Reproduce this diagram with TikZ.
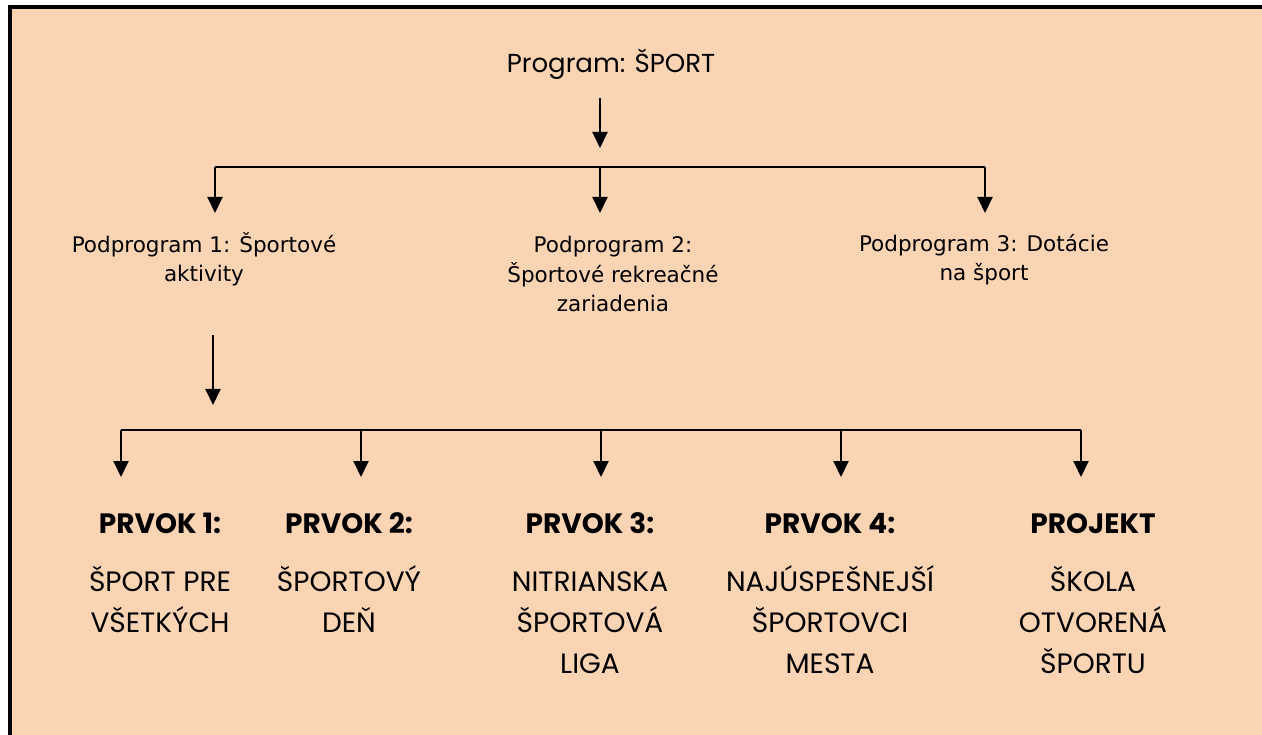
\documentclass[tikz,border=0pt]{standalone}
\usepackage{fontspec}
\setmainfont{DejaVu Sans}
\newfontfamily\gothic{Poppins}
\usetikzlibrary{arrows.meta}
\definecolor{peach}{RGB}{251,212,180}
\begin{document}
\begin{tikzpicture}[x=1pt,y=-1pt,
  ln/.style={line width=2pt},
  arr/.style={line width=2pt,-{Triangle[width=15pt,length=16pt]}},
  title/.style={inner sep=0pt,anchor=base,font=\gothic\fontsize{26}{30}\selectfont},
  sub/.style={inner sep=0pt,anchor=base,align=center,font=\fontsize{21.5}{29.5}\selectfont},
  col/.style={inner sep=0pt,anchor=base,align=center,font=\gothic\fontsize{28}{41}\selectfont}]
\useasboundingbox (0,0) rectangle (1262,735);
\fill[peach] (12,9) rectangle (1262,735);
\draw[line width=4pt] (10,735) -- (10,7) -- (1262,7);

\node[title] (prog) at (611,73) {Program: ŠPORT};

% anchor=base of a multi-line node is the baseline of its last line
\node[sub] (sp1) at (204,282) {Podprogram 1: Športové\\aktivity};
\node[sub] (sp2) at (613,312) {Podprogram 2:\\Športové rekreačné\\zariadenia};
\node[sub] (sp3) at (984,281) {Podprogram 3: Dotácie\\na šport};

\node[col] (c1) at (160,632) {\textbf{PRVOK 1:}\\[17pt]ŠPORT PRE\\VŠETKÝCH};
\node[col] (c2) at (349,632) {\textbf{PRVOK 2:}\\[17pt]ŠPORTOVÝ\\DEŇ};
\node[col] (c3) at (590,673) {\textbf{PRVOK 3:}\\[17pt]NITRIANSKA\\ŠPORTOVÁ\\LIGA};
\node[col] (c4) at (830,673) {\textbf{PRVOK 4:}\\[17pt]NAJÚSPEŠNEJŠÍ\\ŠPORTOVCI\\MESTA};
\node[col] (c5) at (1093,673) {\textbf{PROJEKT}\\[17pt]ŠKOLA\\OTVORENÁ\\ŠPORTU};

% upper level
\coordinate (p0) at (600,98);
\coordinate (p1) at (600,148);
\coordinate (hL) at (215,167);
\coordinate (hM) at (600,167);
\coordinate (hR) at (985,167);
\coordinate (d1) at (215,213);
\coordinate (d2) at (600,213);
\coordinate (d3) at (985,213);
\draw[arr] (p0) -- (p1);
\draw[ln] (hL) -- (hR);
\draw[arr] (hL) -- (d1);
\draw[arr] (hM) -- (d2);
\draw[arr] (hR) -- (d3);

% lower level
\coordinate (q0) at (213,335);
\coordinate (q1) at (213,405);
\draw[arr] (q0) -- (q1);
\coordinate (k1) at (121,430);
\coordinate (k2) at (361,430);
\coordinate (k3) at (601,430);
\coordinate (k4) at (841,430);
\coordinate (k5) at (1081,430);
\coordinate (e1) at (121,477);
\coordinate (e2) at (361,477);
\coordinate (e3) at (601,477);
\coordinate (e4) at (841,477);
\coordinate (e5) at (1081,477);
\draw[ln] (k1) -- (k5);
\draw[arr] (k1) -- (e1);
\draw[arr] (k2) -- (e2);
\draw[arr] (k3) -- (e3);
\draw[arr] (k4) -- (e4);
\draw[arr] (k5) -- (e5);
\end{tikzpicture}
\end{document}
